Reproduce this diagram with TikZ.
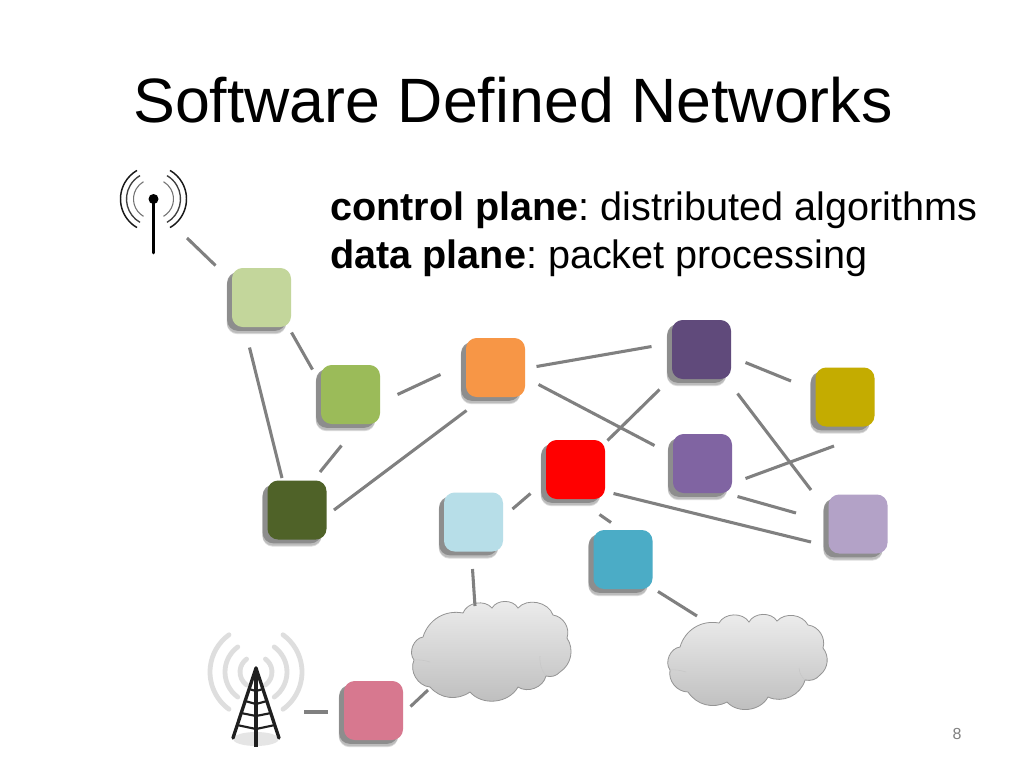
\documentclass[tikz,border=0pt]{standalone}
\usepackage{fontspec}
\setmainfont{Liberation Sans}
\usetikzlibrary{calc}
\frenchspacing
\definecolor{cLightgreen}{HTML}{C3D69B}
\definecolor{cGreen}{HTML}{9BBB59}
\definecolor{cOrange}{HTML}{F79646}
\definecolor{cDarkpurple}{HTML}{604A7B}
\definecolor{cGold}{HTML}{C4AC00}
\definecolor{cPurple}{HTML}{8064A2}
\definecolor{cLilac}{HTML}{B3A2C7}
\definecolor{cDarkgreen}{HTML}{4F6228}
\definecolor{cLightblue}{HTML}{B7DEE8}
\definecolor{cTeal}{HTML}{4BACC6}
\definecolor{cPink}{HTML}{D7788F}
\tikzset{
  box/.style={rectangle,rounded corners=8pt,minimum size=44.25pt,inner sep=0pt,fill=#1},
  softshadow/.style={rectangle,rounded corners=8pt,minimum size=44.5pt,inner sep=0pt,fill=black,opacity=.14},
  hardshadow/.style={rectangle,rounded corners=8pt,minimum size=44pt,inner sep=0pt,fill=black!48,opacity=.85},
  link/.style={draw=black!50,line width=2.3pt},
  cloudshape/.style={draw=black!42,line width=.6pt,top color=black!7,bottom color=black!26},
  cloudinner/.style={draw=black!22,line width=.4pt},
  bl/.style={bend left=#1},
  title/.style={anchor=base west,inner sep=0pt,font=\fontsize{47pt}{48pt}\selectfont},
  body/.style={anchor=base west,inner sep=0pt,font=\fontsize{29.7pt}{30pt}\selectfont},
  wave/.style={line cap=round,draw=black!#1},
  mast/.style={draw=black!88,line cap=round},
}
% place a square with its offset shadow
\newcommand{\squarenode}[4]{%
  \node[softshadow] at (#2-5,#3+7) {};
  \node[softshadow] at (#2-5,#3+6) {};
  \node[hardshadow] at (#2-5,#3+4) {};
  \node[box=#4] (#1) at (#2,#3) {};
}
% connector between two named nodes, with end offsets from their centres
\newcommand{\lnk}[6]{%
  \draw[link] ($(#1)+(#2,#3)$) -- ($(#4)+(#5,#6)$);
}
\begin{document}
\begin{tikzpicture}[x=.75pt,y=-.75pt]
\useasboundingbox (0,0) rectangle (1024,768);
\fill[white] (0,0) rectangle (1024,768);

\node[title] (ttl) at (133,122) {Software Defined Networks};
\node[body] (l1) at (330,220) {\textbf{control plane}: distributed algorithms};
\node[body] (l2) at (330,268) {\textbf{data plane}: packet processing};
\node[anchor=base,inner sep=0pt,text=black!50,font=\fontsize{12pt}{12pt}\selectfont] (pg) at (957,739) {8};

% small antenna
\node[circle,fill=black,minimum size=7.5pt,inner sep=0pt] (ant) at (153.5,199) {};
\draw[black,line width=2.1pt,line cap=round] (ant.center) -- (153.5,253);
\foreach \r/\g/\w in {20/55/.8,27/75/1,33/90/1.1}{
  \draw[draw=black!\g,line width=\w pt] (153.5,199)+(120:\r) arc[start angle=120,end angle=240,radius=\r];
  \draw[draw=black!\g,line width=\w pt] (153.5,199)+(60:\r) arc[start angle=60,end angle=-60,radius=\r];
}

% tower
\coordinate (tw) at (256,672);
\foreach \r in {16,31,46}{
  \draw[wave=13,line width=3.6pt] (tw)+(126:\r) arc[start angle=126,end angle=234,radius=\r];
  \draw[wave=13,line width=3.6pt] (tw)+(54:\r) arc[start angle=54,end angle=-54,radius=\r];
}
\fill[black!10] (256,739) ellipse[x radius=23,y radius=7];
\draw[mast,line width=2.5pt] (256,668) -- (233,738);
\draw[mast,line width=2.5pt] (256,668) -- (279,738);
\draw[mast,line width=3.4pt,line cap=butt] (256,668) -- (256,747);
\draw[mast,line width=1.6pt] (249,689) -- (256,691) -- (263,689);
\draw[mast,line width=1.6pt] (245,701) -- (256,704) -- (267,701);
\draw[mast,line width=1.6pt] (241,713) -- (256,716) -- (271,713);
\draw[mast,line width=1.6pt] (237,725) -- (256,729) -- (275,725);

% clouds
\path[cloudshape] (423,637) to[bl=42] (463,613) to[bl=60] (492,608) to[bl=60] (518,608) to[bl=60] (553,615)
  to[bl=50] (567,638) to[bl=45] (560,672) to[bl=30] (546,676) to[bl=55] (518,687) to[bl=55] (470,692)
  to[bl=42] (430,687) to[bl=55] (414,660) to[bl=60] (423,637) -- cycle;
\node[inner sep=0pt,minimum size=0pt] (cloudL) at (490,650) {};
\draw[cloudinner] (414,660) to[bend left=10] (430,662);
\draw[cloudinner] (546,676) to[bend left=20] (540,656);
\path[cloudshape] (680,647) to[bl=42] (719,623) to[bl=60] (749,622) to[bl=60] (777,621) to[bl=55] (808,625)
  to[bl=50] (823,648) to[bl=45] (820,675) to[bl=30] (805,680) to[bl=50] (768,697) to[bl=55] (727,702)
  to[bl=42] (688,692) to[bl=50] (670,670) to[bl=60] (680,647) -- cycle;
\node[inner sep=0pt,minimum size=0pt] (cloudR) at (746,660) {};
\draw[cloudinner] (670,670) to[bend left=10] (686,672);
\draw[cloudinner] (805,680) to[bend left=20] (799,668);

% connectors
\coordinate (antc) at (153.5,199);
\coordinate (towc) at (256,700);

\squarenode{lightgreen}{261.5}{297.5}{cLightgreen}
\squarenode{green}{350.5}{394.5}{cGreen}
\squarenode{orange}{495.5}{367.5}{cOrange}
\squarenode{darkpurple}{701.5}{349.5}{cDarkpurple}
\squarenode{gold}{845}{397}{cGold}
\squarenode{red}{575.5}{469.5}{red}
\squarenode{purple}{702.5}{463.5}{cPurple}
\squarenode{lilac}{858}{524}{cLilac}
\squarenode{darkgreen}{297}{510}{cDarkgreen}
\squarenode{lightblue}{473.5}{522}{cLightblue}
\squarenode{teal}{623}{559.5}{cTeal}
\squarenode{pink}{373.5}{710.5}{cPink}

\lnk{antc}{33.5}{39}{lightgreen}{-46}{-32}
\lnk{lightgreen}{30}{35}{green}{-38}{-25}
\lnk{lightgreen}{-12}{50}{darkgreen}{-15}{-32}
\lnk{green}{-9}{51}{darkgreen}{23}{-38}
\lnk{green}{47}{0}{orange}{-55}{7}
\lnk{darkgreen}{37}{0}{orange}{-29}{43}
\lnk{orange}{41}{-1}{darkpurple}{-50}{-3}
\lnk{orange}{43}{17}{purple}{-48}{-18}
\lnk{darkpurple}{44}{13}{gold}{-54}{-16}
\lnk{darkpurple}{-42}{40}{red}{32}{-29}
\lnk{darkpurple}{36}{44}{lilac}{-47}{-34}
\lnk{purple}{43}{15}{gold}{-11}{49}
\lnk{purple}{35}{33}{lilac}{-62}{-11}
\lnk{red}{38}{24}{lilac}{-47}{18}
\lnk{red}{-45}{24}{lightblue}{39}{-13}
\lnk{red}{24}{45}{teal}{-12}{-37}
\lnk{lightblue}{-1}{47}{cloudL}{-15}{-44}
\lnk{teal}{35}{32}{cloudR}{-49}{-44}
\lnk{towc}{48}{12}{pink}{-46}{1.5}
\lnk{pink}{37}{-4}{cloudL}{-62}{40}
\end{tikzpicture}
\end{document}
